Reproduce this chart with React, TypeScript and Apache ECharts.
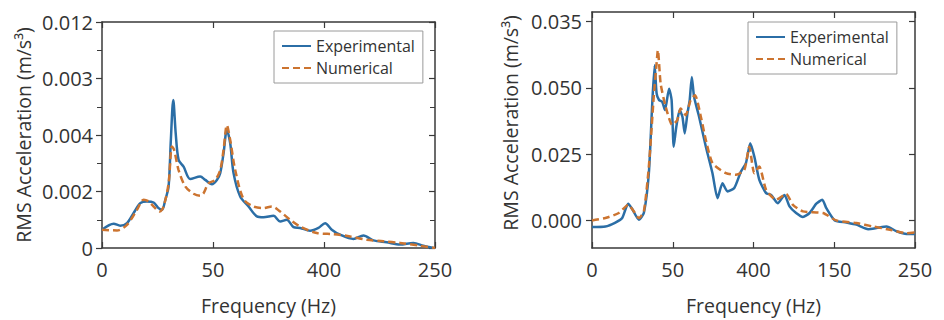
import React, { useEffect, useRef } from "react";
import * as echarts from "echarts";

// ---------- Left panel data ----------
const leftXLabels = ["0", "50", "400", "250"];
const leftYLabels = ["0", "0.002", "0.004", "0.003", "0.012"];
const leftExpFreq = [0, 5.25, 8.25, 11.25, 14.25, 17.25, 20.25, 23.25, 25.5, 27, 28.5, 30, 31, 32.1, 33.2, 34.5, 36.75, 39.75, 44.25, 46.5, 49.5, 51.75, 53.25, 54.75, 56.25, 57.75, 59.25, 62.25, 66, 69.75, 72.75, 77.25, 80.25, 83.25, 86.25, 89.25, 93.75, 97.5, 100.5, 103.5, 107.25, 113.25, 117.75, 122.25, 128.25, 134.25, 140.25, 144.75, 149.25];
const leftExpVal = [0.00065, 0.00086, 0.00079, 0.00088, 0.00124, 0.00159, 0.00165, 0.00161, 0.00141, 0.00135, 0.0017, 0.00218, 0.0038, 0.00524, 0.00406, 0.00312, 0.00288, 0.00244, 0.00253, 0.00241, 0.00226, 0.00241, 0.00265, 0.00335, 0.00418, 0.00371, 0.00265, 0.00182, 0.00147, 0.00112, 0.00109, 0.00114, 0.00094, 0.001, 0.00074, 0.00071, 0.00061, 0.00071, 0.00088, 0.00065, 0.00047, 0.00032, 0.00044, 0.00027, 0.0002, 0.00012, 0.00018, 0.00008, 0];
const leftNumFreq = [0, 6.75, 11.25, 15.75, 18.75, 21, 23.25, 26, 27.75, 30, 31.5, 32.5, 34.5, 37.5, 41.25, 44.25, 45.75, 48, 51, 53.25, 54.75, 56.25, 57.75, 60, 63.75, 68.25, 72.75, 76.5, 80.25, 84.75, 89.25, 96.75, 104.25, 111.75, 119.25, 126.75, 134.25, 143.25, 150];
const leftNumVal = [0.00065, 0.00062, 0.00082, 0.00135, 0.00171, 0.00165, 0.00147, 0.00129, 0.00147, 0.00229, 0.00359, 0.00347, 0.00276, 0.00218, 0.00192, 0.00185, 0.00194, 0.00229, 0.00241, 0.00276, 0.00347, 0.00435, 0.00382, 0.00276, 0.00173, 0.00147, 0.00141, 0.00147, 0.00129, 0.001, 0.00076, 0.00053, 0.00049, 0.00041, 0.00029, 0.00024, 0.00018, 0.00008, 0];

// ---------- Right panel data ----------
const rightXLabels = ["0", "50", "400", "150", "250"];
const rightYTicks = [0, 0.025, 0.05, 0.075];
const rightYLabels = ["0.000", "0.025", "0.050", "0.035"];
const rightExpFreq = [0, 8.3, 14.5, 18.7, 22.4, 24.9, 29, 32.1, 35.2, 37.3, 38.8, 40, 41.5, 43.5, 45.2, 47.7, 49.3, 50.6, 52.2, 54.3, 56, 57.4, 59.1, 60.5, 61.8, 63.2, 66.3, 70.5, 74.6, 77.7, 80.8, 83.9, 88.1, 92.2, 95.3, 98, 100.5, 103.6, 107.8, 110.9, 115, 119.2, 122.3, 126.4, 130.6, 134.7, 138.9, 142.6, 145.1, 150.3, 157.5, 163.7, 171, 176.2, 182.4, 188.6, 194.8, 200];
const rightExpVal = [-0.0025, -0.0023, -0.0008, 0.0009, 0.0063, 0.0043, 0.0003, 0.0028, 0.0178, 0.0441, 0.0585, 0.0479, 0.0454, 0.0447, 0.0416, 0.0497, 0.0454, 0.0278, 0.0353, 0.0416, 0.0391, 0.0328, 0.0404, 0.0454, 0.0541, 0.0466, 0.0391, 0.0278, 0.0178, 0.0084, 0.014, 0.0109, 0.0122, 0.0184, 0.0216, 0.0291, 0.0241, 0.0153, 0.0103, 0.0096, 0.0065, 0.0096, 0.0053, 0.0028, 0.0013, 0.0028, 0.0063, 0.0078, 0.0046, 0, -0.0008, -0.0016, -0.0033, -0.0029, -0.0023, -0.0041, -0.0051, -0.0051];
const rightNumFreq = [0, 8.3, 16.6, 22.4, 25.9, 29, 32.1, 35.2, 38.3, 39.8, 40.8, 42.5, 45.6, 49.7, 52.8, 54.9, 58, 61.1, 63.8, 67.4, 70.5, 74.6, 82.9, 89.1, 94.3, 97.4, 100.5, 103.6, 107.8, 114, 120.2, 124.4, 130.6, 143, 151.3, 163.7, 174.1, 184.5, 194.8, 200];
const rightNumVal = [0, 0.0009, 0.0028, 0.0059, 0.0034, 0.0009, 0.0034, 0.0203, 0.0472, 0.0579, 0.0642, 0.0516, 0.0429, 0.036, 0.0378, 0.0422, 0.0397, 0.0454, 0.0472, 0.0391, 0.0303, 0.0216, 0.0178, 0.0172, 0.019, 0.0278, 0.0178, 0.0203, 0.0115, 0.0078, 0.01, 0.0059, 0.0034, 0.0028, 0, -0.001, -0.0023, -0.0035, -0.0048, -0.0045];

const zip = (xs: number[], ys: number[]) => xs.map((x, i) => [x, ys[i]]);

const BLUE = "#2b6ea6";
const ORANGE = "#cc7430";
const AXIS = "#3a3a3a";
const TEXT = "#333";
const FONT = "'Open Sans', 'Noto Sans', sans-serif";
const SOLID_ICON = "path://M0,0h29v2h-29z";
const DASH_ICON = "path://M0,0h7v2h-7z M11,0h7v2h-7z M22,0h7v2h-7z";

export default function App() {
  const ref = useRef<HTMLDivElement>(null);
  useEffect(() => {
    if (!ref.current) return;
    const chart = echarts.init(ref.current, undefined, { renderer: "svg" });
    const axisLine = { show: true, onZero: false, lineStyle: { color: AXIS, width: 1.5 } };
    const tick = (inside: boolean, extra: any = {}) => ({
      show: true,
      inside,
      length: 6,
      lineStyle: { color: AXIS, width: 1.2 },
      ...extra,
    });
    const legendBase = (left: number, top: number) => ({
      left,
      top,
      orient: "vertical",
      itemWidth: 29,
      itemHeight: 2,
      itemGap: 6,
      padding: [7, 8, 7, 8],
      borderColor: "#9a9a9a",
      borderWidth: 1,
      backgroundColor: "#fff",
      textStyle: { fontSize: 16, color: TEXT, fontFamily: FONT },
      data: [
        { name: "Experimental", icon: SOLID_ICON, itemStyle: { color: BLUE } },
        { name: "Numerical", icon: DASH_ICON, itemStyle: { color: ORANGE } },
      ],
    });
    const labelStyle = { fontSize: 20, color: TEXT, fontFamily: FONT };
    const nameStyle = { fontSize: 19.5, color: TEXT, fontFamily: FONT };
    const option: any = {
      animation: false,
      backgroundColor: "#ffffff",
      textStyle: { fontFamily: FONT },
      grid: [
        { left: 102, top: 22, width: 333, height: 226 },
        { left: 592, top: 12, width: 323, height: 236 },
      ],
      legend: [legendBase(274, 31), legendBase(748, 22)],
      xAxis: [
        {
          type: "value",
          gridIndex: 0,
          min: 0,
          max: 150,
          interval: 50,
          position: "bottom",
          axisLine,
          splitLine: { show: false },
          axisTick: tick(true),
          axisLabel: {
            ...labelStyle,
            margin: 11,
            formatter: (v: number) => leftXLabels[Math.round(v / 50)] ?? "",
          },
          name: "Frequency (Hz)",
          nameLocation: "middle",
          nameGap: 47,
          nameTextStyle: nameStyle,
        },
        {
          type: "value",
          gridIndex: 0,
          min: 0,
          max: 150,
          interval: 50,
          position: "top",
          axisLine,
          splitLine: { show: false },
          axisTick: tick(true),
          axisLabel: { show: false },
        },
        {
          type: "value",
          gridIndex: 1,
          min: 0,
          max: 200,
          interval: 50,
          position: "bottom",
          axisLine,
          splitLine: { show: false },
          axisTick: tick(true),
          axisLabel: {
            ...labelStyle,
            margin: 11,
            formatter: (v: number) => rightXLabels[Math.round(v / 50)] ?? "",
          },
          name: "Frequency (Hz)",
          nameLocation: "middle",
          nameGap: 47,
          nameTextStyle: nameStyle,
        },
        {
          type: "value",
          gridIndex: 1,
          min: 0,
          max: 200,
          interval: 50,
          position: "top",
          axisLine,
          splitLine: { show: false },
          axisTick: tick(true),
          axisLabel: { show: false },
        },
      ],
      yAxis: [
        {
          type: "value",
          gridIndex: 0,
          min: 0,
          max: 0.008,
          interval: 0.002,
          position: "left",
          axisLine,
          splitLine: { show: false },
          minorTick: { show: true, splitNumber: 2, length: 5, lineStyle: { color: AXIS } },
          axisTick: tick(false),
          axisLabel: {
            ...labelStyle,
            margin: 9,
            formatter: (v: number) => leftYLabels[Math.round(v / 0.002)] ?? "",
          },
          name: "RMS Acceleration (m/s³)",
          nameLocation: "middle",
          nameGap: 69,
          nameTextStyle: nameStyle,
        },
        {
          type: "value",
          gridIndex: 0,
          min: 0,
          max: 0.008,
          interval: 0.002,
          position: "right",
          axisLine,
          splitLine: { show: false },
          minorTick: { show: true, splitNumber: 2, length: 5, lineStyle: { color: AXIS } },
          axisTick: tick(true),
          axisLabel: { show: false },
        },
        {
          type: "value",
          gridIndex: 1,
          min: -0.0104,
          max: 0.0786,
          position: "left",
          axisLine,
          splitLine: { show: false },
          axisTick: tick(false, { customValues: rightYTicks }),
          axisLabel: {
            ...labelStyle,
            margin: 10,
            customValues: rightYTicks,
            formatter: (v: number) => {
              const i = rightYTicks.findIndex((t) => Math.abs(t - v) < 1e-6);
              return i >= 0 ? rightYLabels[i] : "";
            },
          },
          name: "RMS Acceleration (m/s³)",
          nameLocation: "middle",
          nameGap: 72,
          nameTextStyle: { ...nameStyle, padding: [0, 0, 0, 14] },
        },
        {
          type: "value",
          gridIndex: 1,
          min: -0.0104,
          max: 0.0786,
          position: "right",
          axisLine,
          splitLine: { show: false },
          axisTick: tick(true, { customValues: rightYTicks }),
          axisLabel: { show: false },
        },
      ],
      series: [
        {
          name: "Experimental",
          type: "line",
          xAxisIndex: 0,
          yAxisIndex: 0,
          smooth: 0.3,
          symbol: "none",
          data: zip(leftExpFreq, leftExpVal),
          lineStyle: { color: BLUE, width: 2.5 },
          itemStyle: { color: BLUE },
          z: 2,
        },
        {
          name: "Numerical",
          type: "line",
          xAxisIndex: 0,
          yAxisIndex: 0,
          smooth: 0.3,
          symbol: "none",
          data: zip(leftNumFreq, leftNumVal),
          lineStyle: { color: ORANGE, width: 2.5, type: [7, 4] },
          itemStyle: { color: ORANGE },
          z: 3,
        },
        {
          name: "Experimental",
          type: "line",
          xAxisIndex: 2,
          yAxisIndex: 2,
          smooth: 0.2,
          symbol: "none",
          data: zip(rightExpFreq, rightExpVal),
          lineStyle: { color: BLUE, width: 2.5 },
          itemStyle: { color: BLUE },
          z: 2,
        },
        {
          name: "Numerical",
          type: "line",
          xAxisIndex: 2,
          yAxisIndex: 2,
          smooth: 0.2,
          symbol: "none",
          data: zip(rightNumFreq, rightNumVal),
          lineStyle: { color: ORANGE, width: 2.5, type: [7, 4] },
          itemStyle: { color: ORANGE },
          z: 3,
        },
      ],
    };
    chart.setOption(option);
    return () => chart.dispose();
  }, []);
  return <div ref={ref} style={{ width: 944, height: 320, position: "absolute", left: 0, top: 0 }} />;
}
